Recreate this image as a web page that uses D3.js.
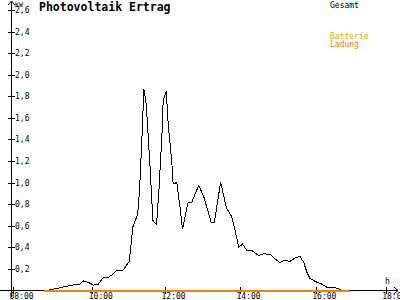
<!DOCTYPE html>
<html><head><meta charset="utf-8">
<script src="https://cdn.jsdelivr.net/npm/d3@7"></script>
<style>
html,body{margin:0;padding:0;background:#fff;}
svg{display:block;}
text{font-family:"DejaVu Sans Mono",monospace;}
</style></head>
<body><svg id="c" width="400" height="300"></svg>
<script>
// ---- data ----
const gesamtTimes = ["08:47","08:56","09:14","09:29","09:40","09:47","09:54","10:02","10:10","10:18","10:26","10:35","10:40","10:51","10:56","11:01","11:07","11:15","11:18","11:23","11:25","11:29","11:35","11:40","11:46","11:50","11:55","11:57","12:02","12:05","12:11","12:13","12:19","12:24","12:28","12:37","12:43","12:54","13:02","13:14","13:19","13:29","13:38","13:47","13:52","13:58","14:04","14:11","14:19","14:29","14:37","14:48","14:55","15:03","15:11","15:19","15:27","15:35","15:41","15:46","15:51","16:02","16:10","16:19","16:33","16:40","16:44"];
const gesamtValues = [0,0.005,0.03,0.05,0.055,0.09,0.075,0.05,0.06,0.12,0.12,0.155,0.185,0.19,0.23,0.27,0.59,0.71,0.93,1.55,1.87,1.73,1.18,0.65,0.61,0.93,1.45,1.76,1.85,1.55,1.18,0.99,1.0,0.77,0.57,0.82,0.82,0.975,0.87,0.63,0.63,1.005,0.77,0.68,0.56,0.40,0.43,0.37,0.37,0.325,0.34,0.335,0.295,0.26,0.28,0.27,0.30,0.315,0.26,0.17,0.11,0.077,0.06,0.03,0.025,0.015,0];
const ladungTimes = ["08:47","16:57"];
const ladungValues = [0,0];
const xTickHours = [8,10,12,14,16,18];
const xTickLabels = ["08:00","10:00","12:00","14:00","16:00","18:00"];
const yTickValues = [0.2,0.4,0.6,0.8,1.0,1.2,1.4,1.6,1.8,2.0,2.2,2.4,2.6];
const title = "Photovoltaik Ertrag";
const legend = [{name:"Gesamt",color:"#000000"},{name:"Batterie",color:"#ffa800"},{name:"Ladung",color:"#ff7f00"}];

// ---- chart ----
const svg = d3.select("#c");
const toH = s => { const [h,m] = s.split(":").map(Number); return h + m/60; };
const x = d3.scaleLinear().domain(xTickHours).range([13,92.3,165,240,315.7,385.7]);
const y = d3.scaleLinear().domain([0,2.6]).range([290.5,10]);

// y ticks
svg.append("g").selectAll("line").data(yTickValues).join("line")
  .attr("x1",8).attr("x2",15)
  .attr("y1",d=>Math.round(y(d))+0.5).attr("y2",d=>Math.round(y(d))+0.5)
  .attr("stroke","#000").attr("shape-rendering","crispEdges");
svg.append("g").selectAll("text").data(yTickValues).join("text")
  .attr("x",15).attr("y",d=>Math.round(y(d))+3)
  .attr("font-size",8).attr("fill","#000")
  .text(d=>d3.format(".1f")(d).replace(".",","));

// x ticks
svg.append("g").selectAll("line").data(xTickHours).join("line")
  .attr("x1",d=>Math.round(x(d))+0.5).attr("x2",d=>Math.round(x(d))+0.5)
  .attr("y1",287).attr("y2",294)
  .attr("stroke","#000").attr("shape-rendering","crispEdges");
svg.append("g").selectAll("text").data(xTickHours).join("text")
  .attr("x",d=>x(d)-3.5).attr("y",299)
  .attr("font-size",8).attr("fill","#000")
  .text((d,i)=>xTickLabels[i]);

// axes
svg.append("line").attr("x1",11.5).attr("x2",11.5).attr("y1",1).attr("y2",297)
  .attr("stroke","#000").attr("shape-rendering","crispEdges");
svg.append("polyline").attr("points","8,5 11.5,1 15,5").attr("fill","none").attr("stroke","#000");
svg.append("line").attr("x1",0).attr("x2",398).attr("y1",290.5).attr("y2",290.5)
  .attr("stroke","#000").attr("shape-rendering","crispEdges");
svg.append("polyline").attr("points","394,287 398,290.5 394,294").attr("fill","none").attr("stroke","#000");
svg.append("text").attr("x",15).attr("y",7).attr("font-size",6.5).text("KW");
svg.append("text").attr("x",385).attr("y",284).attr("font-size",8).text("h");

// gesamt line
const line = d3.line().x(d=>x(toH(d[0]))).y(d=>y(d[1]));
svg.append("path").datum(gesamtTimes.map((t,i)=>[t,gesamtValues[i]]))
  .attr("d",line).attr("fill","none").attr("stroke","#000").attr("stroke-width",1)
  .attr("shape-rendering","crispEdges");
// ladung line
svg.append("path").datum(ladungTimes.map((t,i)=>[t,ladungValues[i]]))
  .attr("d",line).attr("fill","none").attr("stroke",legend[2].color).attr("stroke-width",2)
  .attr("shape-rendering","crispEdges");

// title
svg.append("text").attr("x",39).attr("y",11).attr("font-size",11.5).attr("font-weight","bold").text(title);
// legend
svg.append("text").attr("x",330).attr("y",7.5).attr("font-size",8).attr("fill",legend[0].color).text(legend[0].name);
svg.append("text").attr("x",330).attr("y",39).attr("font-size",8).attr("fill",legend[1].color).text(legend[1].name);
svg.append("text").attr("x",330).attr("y",47).attr("font-size",8).attr("fill",legend[2].color).text(legend[2].name);
</script></body></html>
